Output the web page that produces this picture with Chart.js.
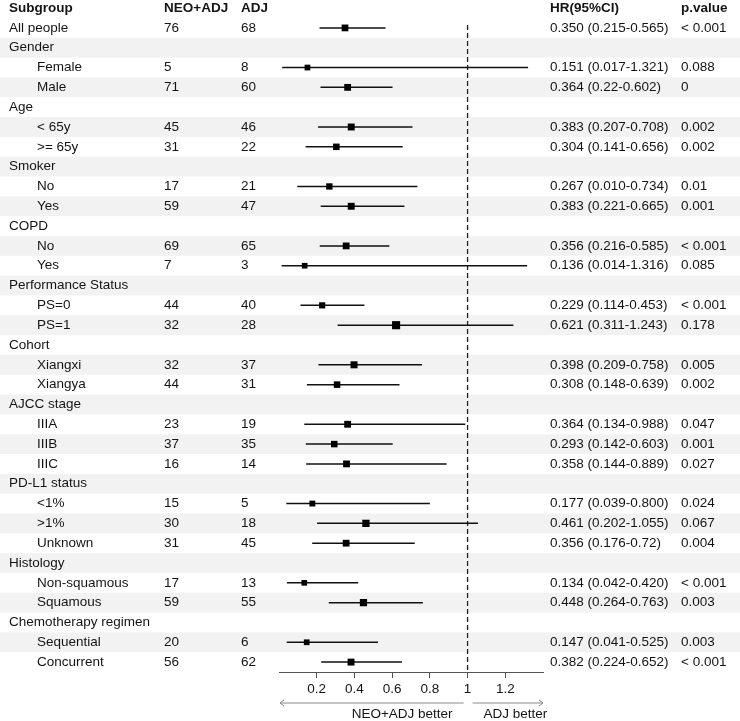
<!DOCTYPE html>
<html>
<head>
<meta charset="utf-8">
<script src="https://cdn.jsdelivr.net/npm/chart.js@4.4.1/dist/chart.umd.min.js"></script>
<style>
  html, body { margin: 0; padding: 0; background: #fff; }
  #wrap { width: 740px; height: 721px; position: relative; }
</style>
</head>
<body>
<div id="wrap"><canvas id="forestChart"></canvas></div>
<script>
// Rows of the table, top to bottom. Leading spaces mark an indented sub-row.
const subgroups = [
    'All people',
    'Gender', '   Female', '   Male',
    'Age', '   < 65y', '   >= 65y',
    'Smoker', '   No', '   Yes',
    'COPD', '   No', '   Yes',
    'Performance Status', '   PS=0', '   PS=1',
    'Cohort', '   Xiangxi', '   Xiangya',
    'AJCC stage', '   IIIA', '   IIIB', '   IIIC',
    'PD-L1 status', '   <1%', '   >1%', '   Unknown',
    'Histology', '   Non-squamous', '   Squamous',
    'Chemotherapy regimen', '   Sequential', '   Concurrent',
];
const neoAdjN = [76, null, 5, 71, null, 45, 31, null, 17, 59, null, 69, 7, null, 44, 32,
    null, 32, 44, null, 23, 37, 16, null, 15, 30, 31, null, 17, 59, null, 20, 56];
const adjN = [68, null, 8, 60, null, 46, 22, null, 21, 47, null, 65, 3, null, 40, 28,
    null, 37, 31, null, 19, 35, 14, null, 5, 18, 45, null, 13, 55, null, 6, 62];
const hr = [0.350, null, 0.151, 0.364, null, 0.383, 0.304, null, 0.267, 0.383, null, 0.356, 0.136,
    null, 0.229, 0.621, null, 0.398, 0.308, null, 0.364, 0.293, 0.358, null, 0.177, 0.461, 0.356,
    null, 0.134, 0.448, null, 0.147, 0.382];
// CI ends as drawn in the plot
const ciLow = [0.215, null, 0.017, 0.22, null, 0.207, 0.141, null, 0.097, 0.221, null, 0.216, 0.014,
    null, 0.114, 0.311, null, 0.209, 0.148, null, 0.134, 0.142, 0.144, null, 0.039, 0.202, 0.176,
    null, 0.042, 0.264, null, 0.041, 0.224];
const ciHigh = [0.565, null, 1.321, 0.602, null, 0.708, 0.656, null, 0.734, 0.665, null, 0.585, 1.316,
    null, 0.453, 1.243, null, 0.758, 0.639, null, 0.988, 0.603, 0.889, null, 0.800, 1.055, 0.72,
    null, 0.420, 0.763, null, 0.525, 0.652];
const hrLabels = ['0.350 (0.215-0.565)', '', '0.151 (0.017-1.321)', '0.364 (0.22-0.602)', '',
    '0.383 (0.207-0.708)', '0.304 (0.141-0.656)', '', '0.267 (0.010-0.734)', '0.383 (0.221-0.665)', '',
    '0.356 (0.216-0.585)', '0.136 (0.014-1.316)', '', '0.229 (0.114-0.453)', '0.621 (0.311-1.243)', '',
    '0.398 (0.209-0.758)', '0.308 (0.148-0.639)', '', '0.364 (0.134-0.988)', '0.293 (0.142-0.603)',
    '0.358 (0.144-0.889)', '', '0.177 (0.039-0.800)', '0.461 (0.202-1.055)', '0.356 (0.176-0.72)', '',
    '0.134 (0.042-0.420)', '0.448 (0.264-0.763)', '', '0.147 (0.041-0.525)', '0.382 (0.224-0.652)'];
const pValues = ['< 0.001', '', '0.088', '0', '', '0.002', '0.002', '', '0.01', '0.001', '',
    '< 0.001', '0.085', '', '< 0.001', '0.178', '', '0.005', '0.002', '', '0.047', '0.001', '0.027', '',
    '0.024', '0.067', '0.004', '', '< 0.001', '0.003', '', '0.003', '< 0.001'];
const headers = ['Subgroup', 'NEO+ADJ', 'ADJ', 'HR(95%CI)', 'p.value'];
const xTicks = [0.2, 0.4, 0.6, 0.8, 1, 1.2];
const refValue = 1;
const arrowLabels = ['NEO+ADJ better', 'ADJ better'];

const FONT = '"Liberation Sans", Arial, sans-serif';
const TEXT = '#141414';

const rowOf = (i) => i + 1;

const boxPoints = [];
const ciPoints = [];
hr.forEach((v, i) => {
    if (v == null) return;
    boxPoints.push({ x: v, y: rowOf(i) });
    ciPoints.push({ x: ciLow[i], y: rowOf(i) }, { x: ciHigh[i], y: rowOf(i) }, { x: null, y: null });
});

// bands, table text and the arrows below the axis
const tablePlugin = {
    id: 'forestTable',
    beforeDraw(chart) {
        const { ctx, scales: { y } } = chart;
        ctx.save();
        ctx.fillStyle = '#fff';
        ctx.fillRect(0, 0, chart.width, chart.height);
        ctx.fillStyle = '#f2f2f2';
        const h = y.getPixelForValue(2) - y.getPixelForValue(1);
        subgroups.forEach((s, i) => {
            if (rowOf(i) % 2 === 0) {
                ctx.fillRect(0, y.getPixelForValue(rowOf(i)) - h / 2, chart.width, h);
            }
        });
        ctx.restore();
    },
    afterDraw(chart) {
        const { ctx, scales: { x, y } } = chart;
        const cols = [9, 164, 241, 550, 681];
        ctx.save();
        ctx.textBaseline = 'middle';
        ctx.fillStyle = TEXT;
        ctx.font = 'bold 13.5px ' + FONT;
        headers.forEach((t, k) => ctx.fillText(t, cols[k], y.getPixelForValue(0)));
        ctx.font = '13.5px ' + FONT;
        subgroups.forEach((s, i) => {
            const py = y.getPixelForValue(rowOf(i));
            const indented = s.startsWith(' ');
            ctx.fillText(s.trim(), indented ? 37 : cols[0], py);
            if (neoAdjN[i] != null) ctx.fillText(String(neoAdjN[i]), cols[1], py);
            if (adjN[i] != null) ctx.fillText(String(adjN[i]), cols[2], py);
            ctx.fillText(hrLabels[i], cols[3], py);
            ctx.fillText(pValues[i], cols[4], py);
        });

        // arrows
        const ay = chart.chartArea.bottom + 31;
        const xr = x.getPixelForValue(refValue);
        const xl = x.getPixelForValue(x.min);
        const xh = x.getPixelForValue(x.max);
        ctx.strokeStyle = '#8a8a8a';
        ctx.lineWidth = 1;
        ctx.beginPath();
        ctx.moveTo(xr - 4, ay); ctx.lineTo(xl + 1, ay);
        ctx.moveTo(xl + 5, ay - 3); ctx.lineTo(xl + 1, ay); ctx.lineTo(xl + 5, ay + 3);
        ctx.moveTo(xr + 5, ay); ctx.lineTo(xh, ay);
        ctx.moveTo(xh - 4, ay - 3); ctx.lineTo(xh, ay); ctx.lineTo(xh - 4, ay + 3);
        ctx.stroke();
        ctx.fillStyle = TEXT;
        ctx.textAlign = 'right';
        ctx.fillText(arrowLabels[0], xr - 15, ay + 11);
        ctx.textAlign = 'left';
        ctx.fillText(arrowLabels[1], xr + 16, ay + 11);
        ctx.restore();
    },
};

new Chart(document.getElementById('forestChart'), {
    type: 'scatter',
    data: {
        datasets: [
            {
                label: 'ref',
                type: 'line',
                data: [{ x: refValue, y: 0.85 }, { x: refValue, y: subgroups.length + 0.5 }],
                borderColor: '#222',
                borderWidth: 1.3,
                borderDash: [5, 3],
                pointRadius: 0,
                order: 3,
            },
            {
                label: 'ci',
                type: 'line',
                data: ciPoints,
                borderColor: '#111',
                borderWidth: 1.5,
                spanGaps: false,
                pointRadius: 0,
                order: 2,
            },
            {
                label: 'hr',
                data: boxPoints,
                pointStyle: 'rect',
                backgroundColor: '#000',
                borderWidth: 0,
                pointRadius: (c) => (5 + 5 * c.raw.x) / Math.SQRT2,
                order: 1,
            },
        ],
    },
    options: {
        responsive: true,
        maintainAspectRatio: false,
        animation: false,
        events: [],
        layout: { padding: { left: 279, right: 197, top: 18, bottom: 0 } },
        plugins: { legend: { display: false }, tooltip: { enabled: false } },
        scales: {
            y: {
                type: 'linear',
                display: false,
                reverse: true,
                min: 0.5,
                max: subgroups.length + 0.5,
            },
            x: {
                type: 'linear',
                min: 0,
                max: 1.4,
                afterBuildTicks: (s) => { s.ticks = xTicks.map((v) => ({ value: v })); },
                afterFit: (s) => { s.height = 49; },
                ticks: {
                    callback: (v) => String(v),
                    autoSkip: false,
                    maxRotation: 0,
                    padding: 3,
                    color: TEXT,
                    font: { family: FONT, size: 13.5 },
                },
                grid: { drawOnChartArea: false, drawTicks: true, tickLength: 6, color: '#555' },
                border: { display: true, color: '#555', width: 1 },
            },
        },
    },
    plugins: [tablePlugin],
});
</script>
</body>
</html>
